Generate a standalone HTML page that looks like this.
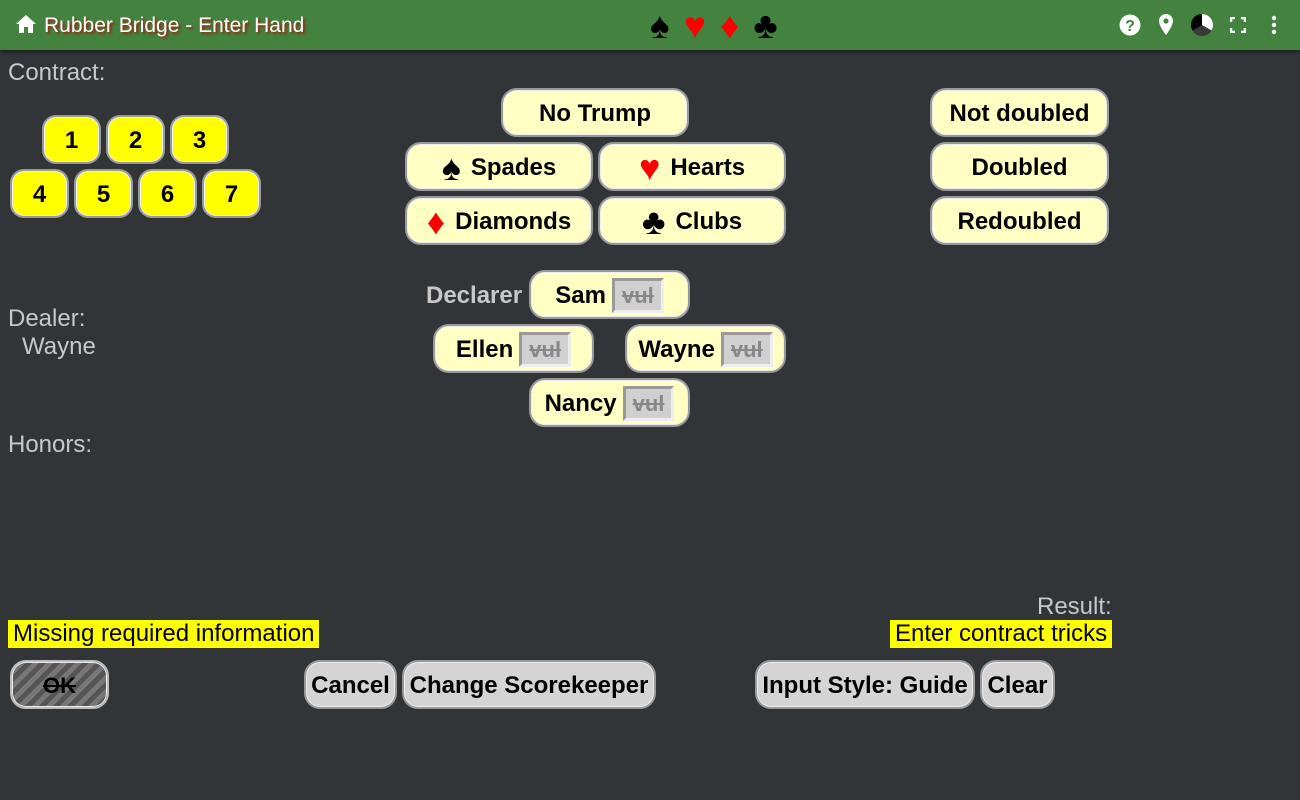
<!DOCTYPE html>
<html><head><style>
*{box-sizing:border-box;margin:0;padding:0}
body{width:1300px;height:800px;background:#323538;font-family:"Liberation Sans",sans-serif;position:relative;overflow:hidden}
.hdr{position:absolute;left:0;top:0;width:1300px;height:50px;background:#43823f;box-shadow:0 2px 4px rgba(0,0,0,.5)}
.t{position:absolute;left:44px;top:14px;font-size:21px;color:#fff;text-shadow:2px 2px 2px #a02010}
.b{position:absolute;border:2px solid #999;border-radius:16px;background:#ffffc4;font-weight:bold;font-size:24px;display:flex;align-items:center;justify-content:center;color:#000;box-shadow:inset 0 0 0 1px #eee;padding-top:2px}
.y{background:#ffff00;border-radius:14px}
.g{background:#d4d4d4;border-radius:16px}
.l{position:absolute;color:#c8c8c8;font-size:24px}
.v{display:inline-block;background:#d0d0d0;border:3px solid;border-color:#999 #eee #eee #999;color:#888;text-decoration:line-through;font-size:22px;padding:0 7px;margin-left:6px;line-height:29px}
.m{position:absolute;background:#ffff00;color:#000;font-size:24px;padding:0 5px;height:28px;line-height:28px}
</style></head><body>
<div class="hdr">
<svg style="position:absolute;left:15px;top:14px" width="22" height="20" viewBox="0 0 22 20"><path d="M11 1L1 10h3v9h5v-6h4v6h5v-9h3z" fill="#fff"/></svg>
<div class="t">Rubber Bridge - Enter Hand</div>
<div style="position:absolute;left:650px;top:6px;font-size:37px;line-height:40px;letter-spacing:2px"><span style="color:#000">♠</span> <span style="color:#f00">♥</span> <span style="color:#f00">♦</span> <span style="color:#000">♣</span></div>
<svg style="position:absolute;left:1119px;top:14px" width="22" height="22"><circle cx="11" cy="11" r="10.5" fill="#fff"/><text x="11" y="17" font-size="16" font-weight="bold" text-anchor="middle" fill="#43823f" font-family="Liberation Sans">?</text></svg>
<svg style="position:absolute;left:1158px;top:14px" width="16" height="22"><path d="M8 0a7 7 0 0 0-7 7c0 5 7 14 7 14s7-9 7-14a7 7 0 0 0-7-7z" fill="#fff"/><circle cx="8" cy="7" r="2.6" fill="#43823f"/></svg>
<svg style="position:absolute;left:1190px;top:13px" width="24" height="24"><circle cx="12" cy="12" r="11" fill="#333"/><path d="M12 12L12 1A11 11 0 0 1 21.5 17.5z" fill="#fff"/><path d="M12 12L21.5 17.5A11 11 0 0 1 2.5 17.5z" fill="#3a3a3a"/><path d="M12 12L2.5 17.5A11 11 0 0 1 12 1z" fill="#000"/></svg>
<svg style="position:absolute;left:1230px;top:17px" width="16" height="16" fill="none" stroke="#fff" stroke-width="2.5"><path d="M1 5V1h4M11 1h4v4M15 11v4h-4M5 15H1v-4"/></svg>
<svg style="position:absolute;left:1270px;top:15px" width="8" height="20" fill="#fff"><circle cx="4" cy="3" r="2.2"/><circle cx="4" cy="10" r="2.2"/><circle cx="4" cy="17" r="2.2"/></svg>
</div>
<div class="l" style="left:8px;top:59px">Contract:</div>
<div class="b y" style="left:42px;top:115px;width:59px;height:49px">1</div>
<div class="b y" style="left:106px;top:115px;width:59px;height:49px">2</div>
<div class="b y" style="left:170px;top:115px;width:59px;height:49px">3</div>
<div class="b y" style="left:10px;top:169px;width:59px;height:49px">4</div>
<div class="b y" style="left:74px;top:169px;width:59px;height:49px">5</div>
<div class="b y" style="left:138px;top:169px;width:59px;height:49px">6</div>
<div class="b y" style="left:202px;top:169px;width:59px;height:49px">7</div>
<div class="b" style="left:501px;top:88px;width:188px;height:49px">No Trump</div>
<div class="b" style="left:405px;top:142px;width:188px;height:49px"><span style="font-size:36px;margin-right:10px">♠</span>Spades</div>
<div class="b" style="left:598px;top:142px;width:188px;height:49px"><span style="font-size:36px;margin-right:10px;color:#f00">♥</span>Hearts</div>
<div class="b" style="left:405px;top:196px;width:188px;height:49px"><span style="font-size:36px;margin-right:10px;color:#f00">♦</span>Diamonds</div>
<div class="b" style="left:598px;top:196px;width:188px;height:49px"><span style="font-size:36px;margin-right:10px">♣</span>Clubs</div>
<div class="b" style="left:930px;top:88px;width:179px;height:49px">Not doubled</div>
<div class="b" style="left:930px;top:142px;width:179px;height:49px">Doubled</div>
<div class="b" style="left:930px;top:196px;width:179px;height:49px">Redoubled</div>
<div class="l" style="left:426px;top:282px;font-weight:bold">Declarer</div>
<div class="b" style="left:529px;top:270px;width:161px;height:49px">Sam<span class="v">vul</span></div>
<div class="b" style="left:433px;top:324px;width:161px;height:49px">Ellen<span class="v">vul</span></div>
<div class="b" style="left:625px;top:324px;width:161px;height:49px">Wayne<span class="v">vul</span></div>
<div class="b" style="left:529px;top:378px;width:161px;height:49px">Nancy<span class="v">vul</span></div>
<div class="l" style="left:8px;top:305px">Dealer:</div>
<div class="l" style="left:22px;top:333px">Wayne</div>
<div class="l" style="left:8px;top:431px">Honors:</div>
<div class="l" style="left:1037px;top:593px">Result:</div>
<div class="m" style="left:8px;top:620px">Missing required information</div>
<div class="m" style="left:890px;top:620px">Enter contract tricks</div>
<div class="b" style="left:10px;top:660px;width:99px;height:49px;background:repeating-linear-gradient(135deg,#555 0 5px,#777 5px 10px);border-color:#bbb;text-decoration:line-through;font-size:22px">OK</div>
<div class="b g" style="left:304px;top:660px;width:93px;height:49px">Cancel</div>
<div class="b g" style="left:402px;top:660px;width:254px;height:49px">Change Scorekeeper</div>
<div class="b g" style="left:755px;top:660px;width:220px;height:49px">Input Style: Guide</div>
<div class="b g" style="left:980px;top:660px;width:75px;height:49px">Clear</div>
</body></html>
